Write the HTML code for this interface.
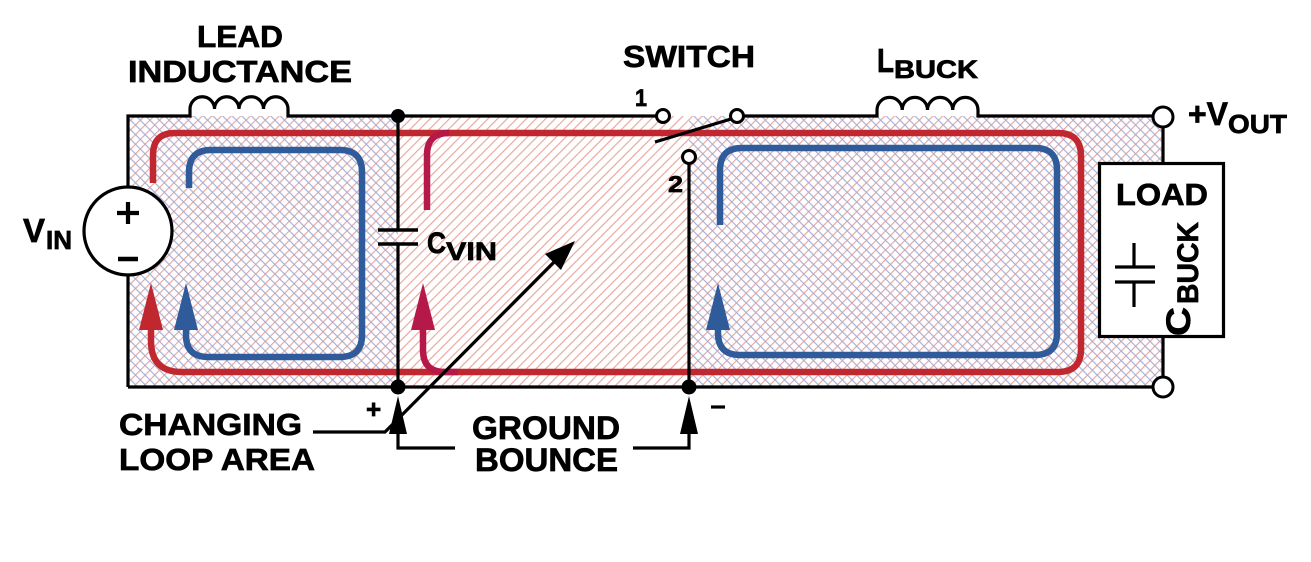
<!DOCTYPE html>
<html><head><meta charset="utf-8"><style>
html,body{margin:0;padding:0;background:#fff;}
svg{display:block;}
text{font-family:"Liberation Sans",Arial,sans-serif;font-weight:bold;fill:#000;stroke:#000;stroke-width:0.7;}
</style></head><body>
<svg width="1311" height="562" viewBox="0 0 1311 562" xmlns="http://www.w3.org/2000/svg">
<defs>
<pattern id="rh" patternUnits="userSpaceOnUse" width="6.8" height="20" patternTransform="rotate(45)">
<line x1="0.6" y1="0" x2="0.6" y2="20" stroke="#e6a29a" stroke-width="1.1"/>
</pattern>
<pattern id="bh" patternUnits="userSpaceOnUse" width="6.8" height="20" patternTransform="rotate(-45)">
<line x1="0.6" y1="0" x2="0.6" y2="20" stroke="#a2abd8" stroke-width="1.1"/>
</pattern>
</defs>

<!-- hatch regions -->
<rect x="128" y="116" width="270" height="271" fill="url(#rh)"/>
<rect x="128" y="116" width="270" height="271" fill="url(#bh)"/>
<rect x="398" y="116" width="291" height="271" fill="url(#rh)"/>
<rect x="689" y="116" width="474" height="271" fill="url(#rh)"/>
<rect x="689" y="116" width="474" height="271" fill="url(#bh)"/>

<!-- current loops -->
<g fill="none" stroke-width="6.5" stroke-linecap="butt">
<path d="M189,188 V172 Q189,150 211,150 H340 Q362,150 362,172 V335 Q362,357 340,357 H208 Q186,357 186,335 V326" stroke="#2f5b9a"/>
<path d="M720,225 V170 Q720,148 742,148 H1035 Q1057,148 1057,170 V333 Q1057,355 1035,355 H740 Q718,355 718,333 V326" stroke="#2f5b9a"/>
<path d="M153,183 V155 Q153,133 175,133 H1058 Q1081,133 1081,156 V349 Q1081,372 1058,372 H182 Q151,372 151,341 V326" stroke="#c1272f"/>
<path d="M427,210 V155 Q427,133 449,133" stroke="#b5194a"/>
<path d="M423,326 V350 Q423,372 445,372 H458" stroke="#b5194a"/>
</g>
<polygon points="151,283 139,330 163,330" fill="#c1272f"/>
<polygon points="186,283 174,330 198,330" fill="#2f5b9a"/>
<polygon points="423,283 411,330 435,330" fill="#b5194a"/>
<polygon points="718,283 706,330 730,330" fill="#2f5b9a"/>

<!-- wiring -->
<g fill="none" stroke="#000" stroke-width="3.2">
<path d="M128,387 V116 H190 V109 A12.25,12.25 0 0 1 214.5,109 A12.25,12.25 0 0 1 239,109 A12.25,12.25 0 0 1 263.5,109 A12.25,12.25 0 0 1 288,109 V116 H657"/>
<path d="M743,116 H877 V110 A12.6,12.6 0 0 1 902.2,110 A12.6,12.6 0 0 1 927.5,110 A12.6,12.6 0 0 1 952.7,110 A12.6,12.6 0 0 1 978,110 V116 H1153"/>
<path d="M128,387 H1153"/>
<path d="M398,116 V230 M398,244 V387"/>
<path d="M378,230 H418 M378,244 H418" stroke-width="3.5"/>
<path d="M689,164 V387"/>
<path d="M655,142 L731,119"/>
<path d="M1163,127 V162 M1163,338 V377"/>
<!-- changing loop area connector -->
<path d="M313,432 H385 L560,256"/>
<!-- ground bounce connectors -->
<path d="M398,430 V448 H455 M689,430 V448 H633"/>
<path d="M711,407 H725"/>
</g>

<polygon points="575,241 545,254 561,270" fill="#000"/>
<polygon points="398,396 389,434 407,434" fill="#000"/>
<polygon points="689,396 680,434 698,434" fill="#000"/>

<!-- VIN source -->
<circle cx="128" cy="231" r="44" fill="#fff" stroke="#000" stroke-width="3.2"/>
<path d="M117,213 H139 M128,202 V224" stroke="#000" stroke-width="4.2"/>
<path d="M118,259 H138" stroke="#000" stroke-width="4.5"/>

<!-- nodes / terminals -->
<circle cx="398" cy="116" r="7" fill="#000"/>
<circle cx="398" cy="387" r="7.5" fill="#000"/>
<circle cx="689" cy="387" r="7.5" fill="#000"/>
<circle cx="663" cy="116" r="6.5" fill="#fff" stroke="#000" stroke-width="3"/>
<circle cx="737" cy="116" r="6.5" fill="#fff" stroke="#000" stroke-width="3"/>
<circle cx="689" cy="157" r="6.5" fill="#fff" stroke="#000" stroke-width="3"/>
<circle cx="1163" cy="117" r="10" fill="#fff" stroke="#000" stroke-width="3"/>
<circle cx="1163" cy="387" r="10" fill="#fff" stroke="#000" stroke-width="3"/>

<!-- load box -->
<rect x="1099.5" y="163.5" width="124" height="173" fill="#fff" stroke="#000" stroke-width="3.2"/>
<path d="M1134,243 V267 M1134,282 V307 M1115,267 H1155 M1115,282 H1155" stroke="#000" stroke-width="3.2"/>

<!-- labels -->
<text x="197" y="47" font-size="31" textLength="86" lengthAdjust="spacingAndGlyphs">LEAD</text>
<text x="128" y="82" font-size="31" textLength="224" lengthAdjust="spacingAndGlyphs">INDUCTANCE</text>
<text x="623" y="67" font-size="31" textLength="132" lengthAdjust="spacingAndGlyphs">SWITCH</text>
<text x="635" y="106" font-size="24" textLength="12" lengthAdjust="spacingAndGlyphs">1</text>
<text x="668" y="192" font-size="23" textLength="15" lengthAdjust="spacingAndGlyphs">2</text>
<text x="877" y="72" font-size="33" textLength="17" lengthAdjust="spacingAndGlyphs">L</text>
<text x="894" y="78" font-size="25" textLength="84" lengthAdjust="spacingAndGlyphs">BUCK</text>
<text x="1188" y="125" font-size="32" textLength="40" lengthAdjust="spacingAndGlyphs">+V</text>
<text x="1228" y="133" font-size="26" textLength="59" lengthAdjust="spacingAndGlyphs">OUT</text>
<text x="23" y="242" font-size="33" textLength="22" lengthAdjust="spacingAndGlyphs">V</text>
<text x="46" y="249" font-size="26" textLength="26" lengthAdjust="spacingAndGlyphs">IN</text>
<text x="427" y="253" font-size="30" textLength="19" lengthAdjust="spacingAndGlyphs">C</text>
<text x="446" y="260" font-size="25" textLength="51" lengthAdjust="spacingAndGlyphs">VIN</text>
<text x="1116" y="205" font-size="31" textLength="92" lengthAdjust="spacingAndGlyphs">LOAD</text>
<text transform="translate(1190,336) rotate(-90)" font-size="34" textLength="29" lengthAdjust="spacingAndGlyphs">C</text>
<text transform="translate(1198,304) rotate(-90)" font-size="30" textLength="82" lengthAdjust="spacingAndGlyphs">BUCK</text>
<text x="119" y="435" font-size="31" textLength="183" lengthAdjust="spacingAndGlyphs">CHANGING</text>
<text x="119" y="470" font-size="31" textLength="196" lengthAdjust="spacingAndGlyphs">LOOP AREA</text>
<text x="472" y="439" font-size="32" textLength="148" lengthAdjust="spacingAndGlyphs">GROUND</text>
<text x="475" y="471" font-size="32" textLength="143" lengthAdjust="spacingAndGlyphs">BOUNCE</text>
<text x="366" y="418" font-size="26">+</text>
</svg>
</body></html>
